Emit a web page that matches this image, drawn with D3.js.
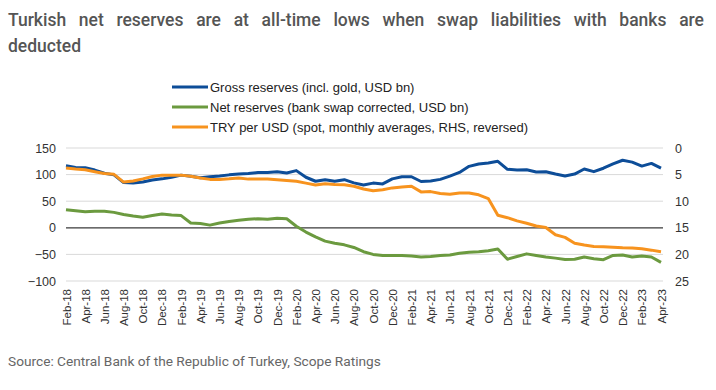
<!DOCTYPE html>
<html>
<head>
<meta charset="utf-8">
<script src="https://cdn.jsdelivr.net/npm/d3@7"></script>
<style>
  html, body { margin: 0; padding: 0; background: #fff; }
  svg { display: block; }
</style>
</head>
<body>
<svg id="chart" width="716" height="390"></svg>
<script>
const months = ["Feb-18","Mar-18","Apr-18","May-18","Jun-18","Jul-18","Aug-18","Sep-18","Oct-18","Nov-18","Dec-18",
  "Jan-19","Feb-19","Mar-19","Apr-19","May-19","Jun-19","Jul-19","Aug-19","Sep-19","Oct-19","Nov-19","Dec-19",
  "Jan-20","Feb-20","Mar-20","Apr-20","May-20","Jun-20","Jul-20","Aug-20","Sep-20","Oct-20","Nov-20","Dec-20",
  "Jan-21","Feb-21","Mar-21","Apr-21","May-21","Jun-21","Jul-21","Aug-21","Sep-21","Oct-21","Nov-21","Dec-21",
  "Jan-22","Feb-22","Mar-22","Apr-22","May-22","Jun-22","Jul-22","Aug-22","Sep-22","Oct-22","Nov-22","Dec-22",
  "Jan-23","Feb-23","Mar-23","Apr-23"];

const grossReserves = [116.5,113.5,113,108.5,102.5,99.5,85,84,86,90,92,95,99,97,94,96,97.5,99.5,101,102,104,104,105.5,103,107.5,95,87.5,90.5,87.5,90.5,84.5,80.5,84,82.5,92,96,96,87,88,91,97,104,115.5,120,122,125,110,108.5,109,105,105.5,101,97.5,101,110.5,105.5,112,120,127,123.5,116,121,112];

const netReserves = [34,32,30,31,31,29,25,22,20,23,26,24,23,9,8,5,9,12,14,16,17,16,18,17,3,-8,-17,-25,-29,-32,-37,-45,-50,-52,-52,-52,-53,-55,-54,-52,-51,-48,-46,-45,-43,-40,-59,-54,-49,-52,-55,-57,-59.5,-59,-55,-58,-60,-52,-51,-55,-53,-55,-65];

const tryPerUsd = [3.75,3.95,4.1,4.45,4.8,4.95,6.4,6.2,5.8,5.35,5.1,5.1,5.1,5.3,5.65,5.9,5.9,5.8,5.65,5.85,5.85,5.85,5.95,6.1,6.25,6.6,6.95,6.7,6.85,6.9,7.2,7.7,8.05,7.85,7.5,7.35,7.2,8.25,8.2,8.55,8.7,8.45,8.45,8.8,9.5,12.65,13.1,13.7,14.15,14.65,14.95,16.3,16.8,17.9,18.25,18.5,18.55,18.65,18.75,18.8,18.95,19.2,19.5];

const leftTicks = [150, 100, 50, 0, -50, -100];
const rightTicks = [0, 5, 10, 15, 20, 25];
const xTickLabels = months.filter((m, i) => i % 2 === 0);

const seriesNames = ["Gross reserves (incl. gold, USD bn)", "Net reserves (bank swap corrected, USD bn)", "TRY per USD (spot, monthly averages, RHS, reversed)"];
const seriesColors = ["#0d4d98", "#6b9a3f", "#f7931e"];

const titleText = "Turkish net reserves are at all-time lows when swap liabilities with banks are deducted";
const sourceText = "Source: Central Bank of the Republic of Turkey, Scope Ratings";

const svg = d3.select("#chart");
const plot = { left: 66, right: 663, top: 148, bottom: 281 };

// Title (justified first line)
const titleFont = "Roboto, 'Noto Sans', sans-serif";
const titleG = svg.append("g").attr("fill", "#555555")
  .style("font-family", titleFont).style("font-size", "17.5px").style("font-weight", 500);
const words = titleText.split(" ");
const line1 = words.slice(0, words.length - 1);
const line2 = words.slice(words.length - 1);
const tmp = line1.map(w => titleG.append("text").attr("y", 26).text(w));
const widths = tmp.map(t => t.node().getComputedTextLength());
const total = widths.reduce((a, b) => a + b, 0);
const x0 = 8, x1 = 704;
const gap = (x1 - x0 - total) / (line1.length - 1);
let cx = x0;
tmp.forEach((t, i) => { t.attr("x", cx); cx += widths[i] + gap; });
titleG.append("text").attr("x", x0).attr("y", 52).text(line2.join(" "));

// Scales
const x = d3.scalePoint().domain(months).range([plot.left, 661]);
const yL = d3.scaleLinear().domain([-100, 150]).range([plot.bottom, plot.top]);
const yR = d3.scaleLinear().domain([0, 25]).range([plot.top, plot.bottom]);

// Gridlines
svg.append("g").selectAll("line").data(leftTicks.filter(d => d !== 0)).join("line")
  .attr("x1", plot.left).attr("x2", plot.right)
  .attr("y1", d => yL(d)).attr("y2", d => yL(d))
  .attr("stroke", "#d9d9d9").attr("stroke-width", 1);

// Zero line
svg.append("line").attr("x1", plot.left).attr("x2", plot.right)
  .attr("y1", yL(0)).attr("y2", yL(0)).attr("stroke", "#3a3a3a").attr("stroke-width", 1.3);

// Axes
const axisFont = "'Liberation Sans', Arial, sans-serif";
const leftAxis = svg.append("g").attr("transform", `translate(${plot.left - 10},0)`)
  .call(d3.axisLeft(yL).tickValues(leftTicks).tickSize(0).tickPadding(0));
leftAxis.select(".domain").remove();
leftAxis.selectAll("text").style("font-family", axisFont).style("font-size", "12.5px").attr("fill", "#333");

const rightAxis = svg.append("g").attr("transform", `translate(${plot.right + 12},0)`)
  .call(d3.axisRight(yR).tickValues(rightTicks).tickSize(0).tickPadding(0));
rightAxis.select(".domain").remove();
rightAxis.selectAll("text").style("font-family", axisFont).style("font-size", "12.5px").attr("fill", "#333");

const bottomAxis = svg.append("g").attr("transform", `translate(0,${plot.bottom + 8})`)
  .call(d3.axisBottom(x).tickValues(xTickLabels).tickSize(0).tickPadding(0));
bottomAxis.select(".domain").remove();
bottomAxis.selectAll("text")
  .style("font-family", axisFont).style("font-size", "11.5px").attr("fill", "#333")
  .attr("text-anchor", "end").attr("dy", "0.35em").attr("dx", 0)
  .attr("transform", "rotate(-90)").attr("x", 0).attr("y", 0);

// Lines
const lineL = d3.line().x((d, i) => x(months[i])).y(d => yL(d));
const lineR = d3.line().x((d, i) => x(months[i])).y(d => yR(d));
svg.append("path").datum(netReserves).attr("d", lineL).attr("fill", "none")
  .attr("stroke", seriesColors[1]).attr("stroke-width", 3).attr("stroke-linejoin", "round");
svg.append("path").datum(grossReserves).attr("d", lineL).attr("fill", "none")
  .attr("stroke", seriesColors[0]).attr("stroke-width", 3).attr("stroke-linejoin", "round");
svg.append("path").datum(tryPerUsd).attr("d", lineR).attr("fill", "none")
  .attr("stroke", seriesColors[2]).attr("stroke-width", 3).attr("stroke-linejoin", "round");

// Legend
const legend = svg.append("g");
const legendY = [87, 107, 127];
seriesNames.forEach((name, i) => {
  legend.append("line").attr("x1", 172).attr("x2", 208)
    .attr("y1", legendY[i]).attr("y2", legendY[i])
    .attr("stroke", seriesColors[i]).attr("stroke-width", 3);
  legend.append("text").attr("x", 210).attr("y", legendY[i]).attr("dy", "0.35em")
    .style("font-family", axisFont).style("font-size", "13px").attr("fill", "#222").text(name);
});

// Source
svg.append("text").attr("x", 8).attr("y", 366)
  .style("font-family", "Roboto, sans-serif").style("font-size", "13.7px").attr("fill", "#666")
  .text(sourceText);
</script>
</body>
</html>
